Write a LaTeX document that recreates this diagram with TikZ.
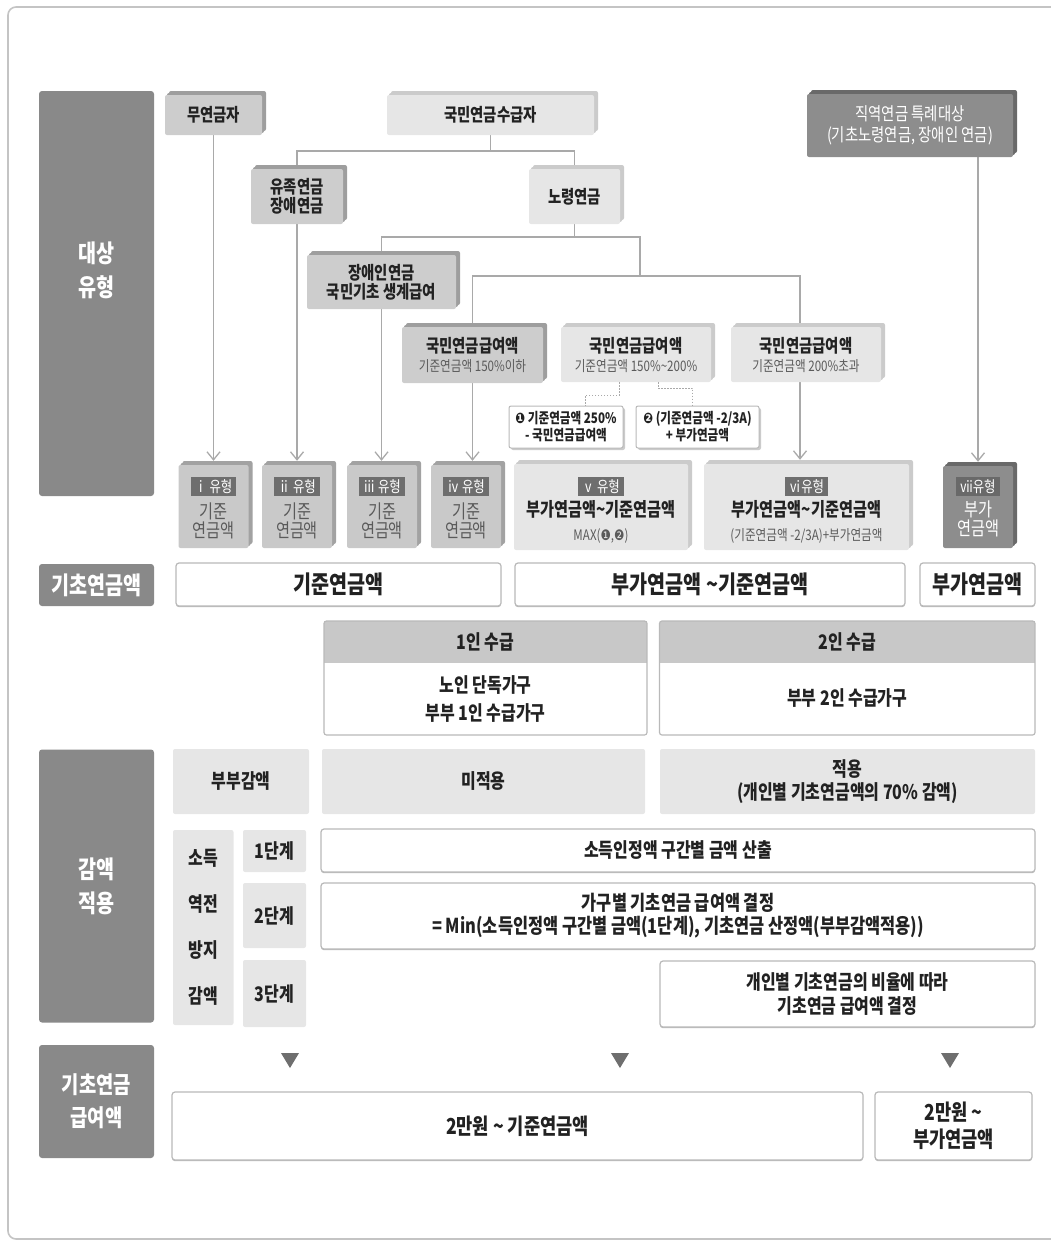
\documentclass[tikz,border=0pt]{standalone}
\usepackage{fontspec}
\setmainfont{Noto Sans CJK KR}[FakeStretch=0.8]
\newfontfamily\symf{DejaVu Sans}[FakeStretch=0.8]
\usetikzlibrary{arrows.meta,positioning,shadows,backgrounds}

\definecolor{framegray}{HTML}{C4C4C4}
\definecolor{lblgray}{HTML}{898989}
\definecolor{tagdark}{HTML}{6E6E6E}
\definecolor{linegray}{HTML}{A9A9A9}
\definecolor{midface}{HTML}{CDCDCD}
\definecolor{midside}{HTML}{9E9E9E}
\definecolor{liteface}{HTML}{E6E6E6}
\definecolor{liteside}{HTML}{CBCBCB}
\definecolor{darkface}{HTML}{8D8D8D}
\definecolor{darkside}{HTML}{696969}
\definecolor{typeface}{HTML}{C9C9C9}
\definecolor{typeside}{HTML}{A2A2A2}
\definecolor{rimgray}{HTML}{B9B9B9}
\definecolor{cellgray}{HTML}{E6E6E6}
\definecolor{headgray}{HTML}{C8C8C8}
\definecolor{ink}{HTML}{222222}
\definecolor{subink}{HTML}{5A5A5A}

\newcommand\fs[2]{\fontsize{#1}{#2}\selectfont}
\newcommand\subtxt{\fs{14.5}{16}\mdseries\color{subink}}

\begin{document}
\begin{tikzpicture}[x=1pt,y=-1pt,
  every node/.style={inner sep=0pt, align=center, text=ink},
  sz/.style 2 args={minimum width=#1pt, minimum height=#2pt},
  lbl/.style={fill=lblgray, rounded corners=3pt, text=white, font=\fs{24.5}{34}\bfseries},
  solid/.style 2 args={fill=#1, rounded corners=2pt, font=\fs{18}{19}\bfseries,
    general shadow={fill=#2, shadow xshift=4pt, shadow yshift=4pt},
    general shadow={fill=#2, shadow xshift=2pt, shadow yshift=2pt}},
  tag/.style={fill=tagdark, text=white, minimum height=19pt, inner xsep=4pt, font=\fs{15.5}{16}},
  typetxt/.style={text=subink, font=\fs{19}{19}},
  note/.style={fill=white, draw=rimgray, line width=1pt, rounded corners=2pt, font=\fs{14.5}{17}\bfseries,
    general shadow={fill=liteside, shadow xshift=2pt, shadow yshift=-2pt}},
  wbox/.style={fill=white, draw=rimgray, line width=1.2pt, rounded corners=3pt,
    general shadow={fill=rimgray, shadow xshift=0pt, shadow yshift=-1.2pt}},
  pane/.style={draw=rimgray, line width=1.2pt, rounded corners=2.5pt},
  head/.style={fill=headgray, font=\fs{20}{22}\bfseries},
  cell/.style={fill=cellgray, rounded corners=2pt, font=\fs{20}{23}\bfseries},
  conn/.style={draw=linegray, line width=1.3pt},
  arr/.style={conn, -{Straight Barb[length=8pt,width=13pt]}, shorten >=4pt},
  dots/.style={draw=linegray, line width=1pt, dash pattern=on 1.5pt off 1.5pt},
  tri/.style={fill=tagdark}
  ]
  \useasboundingbox (0,0) rectangle (1051,1242);
  \draw[draw=framegray, line width=1.6pt, rounded corners=8pt] (8,7) rectangle (1075,1239);

  % left column
  \node[lbl, sz={115}{405}] (tgt) at (96.5,293.5) {};
  \node[text=white, font=\fs{24.5}{34}\bfseries] (tgtx) at (96.5,270) {대상\\유형};
  \node[lbl, sz={115}{42}] (base) at (96.5,585) {기초연금액};
  \node[lbl, sz={115}{273}] (cut) at (96.5,886) {감액\\적용};
  \node[lbl, sz={115}{113}, font=\fs{23.5}{33}\bfseries] (pay) at (96.5,1101.5) {기초연금\\급여액};

  % who receives what
  \node[solid={midface}{midside}, sz={97}{40}] (mu) at (213.5,115) {무연금자};
  \node[solid={liteface}{liteside}, sz={207}{40}] (kuk) at (490.5,115) {국민연금수급자};
  \node[solid={midface}{midside}, sz={92}{55}] (yu) at (297,196.5) {유족연금\\장애연금};
  \node[solid={liteface}{liteside}, sz={91}{55}] (no) at (574.5,196.5) {노령연금};
  \node[solid={midface}{midside}, sz={149}{54}] (jang) at (381.5,282) {장애인연금\\국민기초 생계급여};
  \node[solid={midface}{midside}, sz={141}{56}] (g1) at (472.5,355) {국민연금급여액\\{\subtxt 기준연금액 150\%이하}};
  \node[solid={liteface}{liteside}, sz={150}{55}] (g2) at (636,354.5) {국민연금급여액\\{\subtxt 기준연금액 150\%\textasciitilde 200\%}};
  \node[solid={liteface}{liteside}, sz={150}{55}] (g3) at (806,354.5) {국민연금급여액\\{\subtxt 기준연금액 200\%초과}};
  \node[solid={darkface}{darkside}, sz={206}{63}, text=white, font=\fs{18}{21}] (jik) at (910,125.5) {직역연금 특례대상\\(기초노령연금, 장애인 연금)};

  \node[note, sz={114}{42}] (c1) at (566,427) {{\symf ❶} 기준연금액 250\%\\- 국민연금급여액};
  \node[note, sz={123}{42}] (c2) at (697.5,427) {{\symf ❷} (기준연금액 -2/3A)\\+ 부가연금액};
  \draw[dots] ([xshift=-17pt]g2.south) -- ++(0,13) -| ([xshift=19pt]c1.north);
  \draw[dots] ([xshift=22pt]g2.south) -- ++(0,6) -| ([xshift=-5pt]c2.north);

  % types i to vii
  \foreach \n/\cx/\r in {1/213.5/ⅰ,2/297/ⅱ,3/382/ⅲ,4/466/ⅳ} {
    \node[solid={typeface}{typeside}, sz={70}{83}] (t\n) at (\cx,506.5) {};
    \node[tag, below=12pt of t\n.north] (tg\n) {\r\,유형};
    \node[typetxt] (tx\n) at (\cx,521) {기준\\연금액};
  }
  \node[solid={liteface}{liteside}, sz={174}{86}] (t5) at (601,507) {};
  \node[tag, below=13pt of t5.north] (tg5) {ⅴ\,유형};
  \node[font=\fs{19}{24}\bfseries] (tx5) at (601,522) {부가연금액\textasciitilde 기준연금액\\{\subtxt MAX({\symf ❶},{\symf ❷})}};
  \node[solid={liteface}{liteside}, sz={205}{86}] (t6) at (806.5,507) {};
  \node[tag, below=13pt of t6.north] (tg6) {ⅵ유형};
  \node[font=\fs{19}{24}\bfseries] (tx6) at (806.5,522) {부가연금액\textasciitilde 기준연금액\\{\subtxt (기준연금액 -2/3A)+부가연금액}};
  \node[solid={darkface}{darkside}, sz={70}{82}] (t7) at (978,507) {};
  \node[tag, fill=darkside, below=11pt of t7.north] (tg7) {ⅶ유형};
  \node[typetxt, text=white] (tx7) at (978,519) {부가\\연금액};

  % basic pension amount
  \node[wbox, sz={325}{43}, font=\fs{24.5}{26}\bfseries] (rb1) at (338.5,584.5) {기준연금액};
  \node[wbox, sz={390}{43}, font=\fs{24.5}{26}\bfseries] (rb2) at (710,584.5) {부가연금액 \textasciitilde 기준연금액};
  \node[wbox, sz={115}{43}, font=\fs{24.5}{26}\bfseries] (rb3) at (977.5,584.5) {부가연금액};

  % one or two receivers
  \node[head, sz={323}{42}] (h1) at (485.5,642) {1인 수급};
  \node[pane, sz={323}{114}] (one) at (485.5,678) {};
  \node[font=\fs{20}{28}\bfseries] (b1) at (485.5,699) {노인 단독가구\\부부 1인 수급가구};
  \node[head, sz={375.5}{42}] (h2) at (847.25,642) {2인 수급};
  \node[pane, sz={375.5}{114}] (two) at (847.25,678) {};
  \node[font=\fs{20}{28}\bfseries] (b2) at (847.25,698) {부부 2인 수급가구};

  % reductions
  \node[cell, sz={136}{65}] (bb) at (241,781.5) {부부감액};
  \node[cell, sz={323}{65}] (na) at (483.5,781.5) {미적용};
  \node[cell, sz={375}{65}, font=\fs{20}{23}\bfseries] (ap) at (847.5,781.5) {적용\\(개인별 기초연금액의 70\% 감액)};
  \node[cell, sz={60.5}{195}, font=\fs{20}{46}\bfseries] (inv) at (203.25,927.5) {소득\\역전\\방지\\감액};
  \node[cell, sz={63}{42}] (s1) at (274.5,851) {1단계};
  \node[cell, sz={63}{65}] (s2) at (274.5,915.5) {2단계};
  \node[cell, sz={63}{67}] (s3) at (274.5,993.5) {3단계};
  \node[wbox, sz={714}{43}, font=\fs{20}{23}\bfseries] (d1) at (678,850.5) {소득인정액 구간별 금액 산출};
  \node[wbox, sz={714}{66}, font=\fs{20.5}{23}\bfseries] (d2) at (678,916) {가구별 기초연금 급여액 결정\\= Min(소득인정액 구간별 금액(1단계), 기초연금 산정액(부부감액적용))};
  \node[wbox, sz={375}{66}, font=\fs{20}{24}\bfseries] (d3) at (847.5,994) {개인별 기초연금의 비율에 따라\\기초연금 급여액 결정};

  % final amount
  \foreach \x in {290,620,950}
    \fill[tri] (\x-9,1053) -- (\x+9,1053) -- (\x,1068) -- cycle;
  \node[wbox, sz={691}{68}, font=\fs{22}{26}\bfseries] (f1) at (517.5,1126) {2만원 \textasciitilde{} 기준연금액};
  \node[wbox, sz={157}{68}, font=\fs{22}{27}\bfseries] (f2) at (953.5,1126) {2만원 \textasciitilde\\부가연금액};

  \begin{pgfonlayer}{background}
    \coordinate (k1) at (490.5,151);
    \coordinate (n1) at (574.5,237);
    \coordinate (n2) at (640,276);
    \coordinate (r3) at (800,276);
    \draw[conn] (kuk.south) -- (k1) -| (yu.north);
    \draw[conn] (k1) -| (no.north);
    \draw[conn] (no.south) -- (n1) -| (jang.north);
    \draw[conn] (n1) -| (n2) -| (g1.north);
    \draw[conn] (n2) -- (r3) -- (r3 |- g3.north);
    % arrows into the types
    \draw[arr] (mu.south) -- (mu.south |- t1.north);
    \draw[arr] (yu.south) -- (yu.south |- t2.north);
    \draw[arr] (jang.south) -- (jang.south |- t3.north);
    \draw[arr] (g1.south) -- (g1.south |- t4.north);
    \draw[arr] (r3 |- g3.south) -- (r3 |- t6.north);
    \draw[arr] (t7.north |- jik.south) -- (t7.north);
  \end{pgfonlayer}
\end{tikzpicture}
\end{document}
